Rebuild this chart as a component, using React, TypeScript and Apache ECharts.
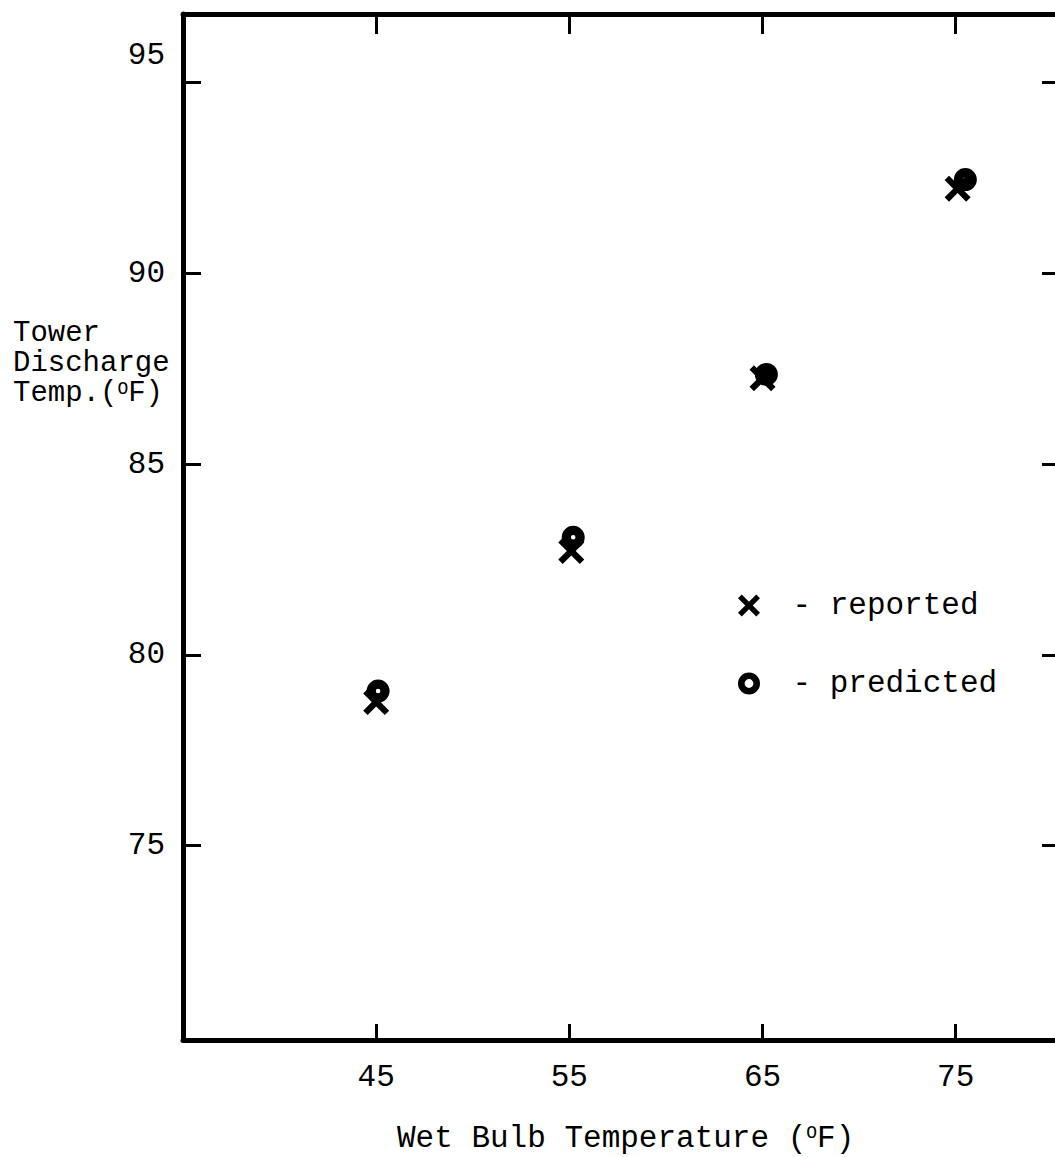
import React, { useEffect, useRef } from "react";
import * as echarts from "echarts";

// Wet bulb temperature ticks (°F)
const xTicks = [45, 55, 65, 75];
const yTicks = [75, 80, 85, 90, 95];

// Reported tower discharge temperature (°F), as plotted
const reportedWetBulb = [45, 55.1, 65, 75.1];
const reportedTemp = [78.76, 82.72, 87.25, 92.22];

// Predicted tower discharge temperature (°F), as plotted
const predictedWetBulb = [45.1, 55.2, 65.2, 75.5];
const predictedTemp = [79.05, 83.08, 87.35, 92.46];

const FONT = "Liberation Mono";

const X_PATH =
  "path://M0,3.4 L3.4,0 L10,6.6 L16.6,0 L20,3.4 L13.4,10 L20,16.6 L16.6,20 L10,13.4 L3.4,20 L0,16.6 L6.6,10 Z";
const O_PATH =
  "path://M10,0 A10,10 0 1,1 10,20 A10,10 0 1,1 10,0 Z M10,8 A2,2 0 1,0 10,12 A2,2 0 1,0 10,8 Z";
const O_LEGEND_PATH =
  "path://M10,0 A10,10 0 1,1 10,20 A10,10 0 1,1 10,0 Z M10,6 A4,4 0 1,0 10,14 A4,4 0 1,0 10,6 Z";

export default function App() {
  const ref = useRef<HTMLDivElement>(null);

  useEffect(() => {
    if (!ref.current) return;
    const chart = echarts.init(ref.current, undefined, { renderer: "svg" });
    const axisLine = { show: true, onZero: false, lineStyle: { color: "#000", width: 5 } };
    const tickStyle = { color: "#000", width: 3 };
    const xMin = 35;
    const xMax = 80.4;
    const yMin = 69.9;
    const yMax = 96.8;
    const supRich = {
      sup: { fontFamily: FONT, fontSize: 18, lineHeight: 28, padding: [0, 0, 10, 0], fill: "#000" },
    };

    chart.setOption({
      animation: false,
      backgroundColor: "#fff",
      grid: { left: 183, top: 14, right: 15, bottom: 117, containLabel: false },
      legend: {
        orient: "vertical",
        left: 738,
        top: 590,
        padding: 0,
        itemWidth: 27,
        itemHeight: 22,
        itemGap: 47,
        formatter: (name: string) => "- " + name,
        textStyle: {
          fontFamily: FONT,
          fontSize: 31,
          color: "#000",
          padding: [0, 0, 0, 25],
        },
        data: [
          { name: "reported", icon: X_PATH, itemStyle: { color: "#000", opacity: 1 } },
          { name: "predicted", icon: O_LEGEND_PATH, itemStyle: { color: "#000", opacity: 1 } },
        ],
      },
      xAxis: [
        {
          type: "value",
          position: "bottom",
          min: xMin,
          max: xMax,
          axisLine,
          axisTick: { show: true, inside: true, length: 16, lineStyle: tickStyle, customValues: xTicks },
          axisLabel: {
            show: true,
            customValues: xTicks,
            fontFamily: FONT,
            fontSize: 31,
            color: "#000",
            margin: 22,
          },
          splitLine: { show: false },
        },
        {
          type: "value",
          position: "top",
          min: xMin,
          max: xMax,
          axisLine,
          axisTick: { show: true, inside: true, length: 20, lineStyle: tickStyle, customValues: xTicks },
          axisLabel: { show: false },
          splitLine: { show: false },
        },
      ],
      yAxis: [
        {
          type: "value",
          position: "left",
          min: yMin,
          max: yMax,
          axisLine,
          axisTick: { show: true, inside: true, length: 18, lineStyle: tickStyle, customValues: yTicks },
          axisLabel: {
            show: true,
            customValues: yTicks,
            fontFamily: FONT,
            fontSize: 31,
            color: "#000",
            margin: 18,
            formatter: (v: number) => (v === 95 ? "{hi|95}" : "{n|" + v + "}"),
            rich: {
              hi: { fontFamily: FONT, fontSize: 31, color: "#000", padding: [0, 0, 54, 0] },
              n: { fontFamily: FONT, fontSize: 31, color: "#000" },
            },
          },
          splitLine: { show: false },
        },
        {
          type: "value",
          position: "right",
          min: yMin,
          max: yMax,
          axisLine,
          axisTick: { show: true, inside: true, length: 18, lineStyle: tickStyle, customValues: yTicks },
          axisLabel: { show: false },
          splitLine: { show: false },
        },
      ],
      graphic: [
        {
          type: "text",
          left: 13,
          top: 319,
          style: { text: "Tower", fontFamily: FONT, fontSize: 29, lineHeight: 29, fill: "#000" },
        },
        {
          type: "text",
          left: 13,
          top: 349,
          style: { text: "Discharge", fontFamily: FONT, fontSize: 29, lineHeight: 29, fill: "#000" },
        },
        {
          type: "text",
          left: 13,
          top: 379,
          style: {
            text: "Temp.({sup|O}F)",
            fontFamily: FONT,
            fontSize: 29,
            lineHeight: 29,
            fill: "#000",
            rich: supRich,
          },
        },
        {
          type: "text",
          left: 397,
          top: 1122,
          style: {
            text: "Wet Bulb Temperature ({sup|O}F)",
            fontFamily: FONT,
            fontSize: 31,
            lineHeight: 32,
            fill: "#000",
            rich: supRich,
          },
        },
      ],
      series: [
        {
          name: "reported",
          type: "scatter",
          symbol: X_PATH,
          symbolSize: 26,
          itemStyle: { color: "#000", opacity: 1 },
          data: reportedWetBulb.map((x, i) => [x, reportedTemp[i]]),
        },
        {
          name: "predicted",
          type: "scatter",
          symbol: O_PATH,
          symbolSize: 23,
          itemStyle: { color: "#000", opacity: 1 },
          data: predictedWetBulb.map((x, i) => [x, predictedTemp[i]]),
        },
      ],
    });
    return () => chart.dispose();
  }, []);

  return (
    <div
      style={{
        position: "absolute",
        left: 0,
        top: 0,
        width: 1055,
        height: 1157,
        overflow: "hidden",
        background: "#fff",
      }}
    >
      <div ref={ref} style={{ width: 1075, height: 1157 }} />
    </div>
  );
}
